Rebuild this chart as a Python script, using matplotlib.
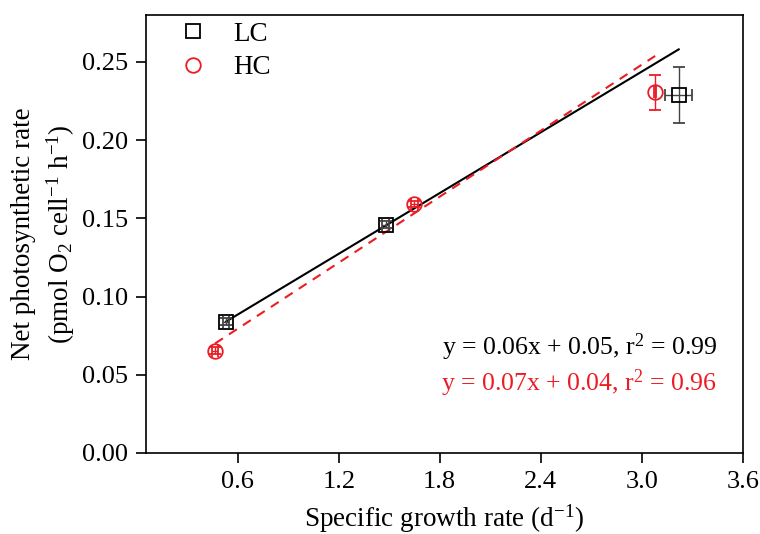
import numpy as np
import matplotlib
matplotlib.use("Agg")
import matplotlib.pyplot as plt

plt.rcParams['font.family'] = ['Liberation Serif', 'DejaVu Serif']
plt.rcParams['mathtext.fontset'] = 'custom'
plt.rcParams['mathtext.rm'] = 'Liberation Serif'
plt.rcParams['mathtext.it'] = 'Liberation Serif:italic'

# LC data (growth rate, photosynthetic rate, errors)
lc_x = [0.53, 1.48, 3.22]
lc_y = [0.084, 0.146, 0.229]
lc_xerr = [0.02, 0.02, 0.08]
lc_yerr = [0.002, 0.002, 0.018]

# HC data
hc_x = [0.465, 1.65, 3.08]
hc_y = [0.0655, 0.159, 0.2305]
hc_xerr = [0.02, 0.02, 0.005]
hc_yerr = [0.002, 0.002, 0.011]

# linear fits (slope, intercept) as drawn
lc_fit = [0.0647, 0.0497]
hc_fit = [0.0703, 0.0373]

red = '#ec1c24'

fig = plt.figure(figsize=(7.6, 5.34), dpi=100)
ax = fig.add_axes([0.1917, 0.1517, 0.7855, 0.8202])

#fit lines
xl = np.array([min(lc_x), max(lc_x)])
ax.plot(xl, lc_fit[0]*xl + lc_fit[1], color='black', lw=1.5, zorder=2)
xh = np.array([min(hc_x), max(hc_x)])
ax.plot(xh, hc_fit[0]*xh + hc_fit[1], color=red, lw=1.5, ls=(0, (4.5, 3.5)), zorder=2)

ax.errorbar(lc_x, lc_y, xerr=lc_xerr, yerr=lc_yerr, fmt='s', ms=9.5,
            mfc='none', mec='black', mew=1.3, ecolor='#444444', elinewidth=1,
            capsize=4, capthick=1, zorder=3, label='LC')
ax.errorbar(hc_x, hc_y, xerr=hc_xerr, yerr=hc_yerr, fmt='o', ms=10.5,
            mfc='none', mec=red, mew=1.3, ecolor=red, elinewidth=1,
            capsize=4, capthick=1, zorder=3, label='HC')

ax.set_xlim(0.053, 3.6)
ax.set_ylim(0, 0.28)
ax.set_xticks([0.6, 1.2, 1.8, 2.4, 3.0, 3.6])
ax.set_yticks([0.0, 0.05, 0.10, 0.15, 0.20, 0.25])
ax.xaxis.set_major_formatter(matplotlib.ticker.FormatStrFormatter('%.1f'))
ax.yaxis.set_major_formatter(matplotlib.ticker.FormatStrFormatter('%.2f'))
ax.tick_params(direction='out', length=7, width=1.2, labelsize=19, pad=6,
               top=False, right=False)
for s in ax.spines.values():
    s.set_linewidth(1.2)

ax.set_xlabel('Specific growth rate (d$^{-1}$)', fontsize=19.5, labelpad=7)
ax.set_ylabel('Net photosynthetic rate\n(pmol O$_2$ cell$^{-1}$ h$^{-1}$)',
              fontsize=19.5, labelpad=3, linespacing=1.35)

handles, labels = ax.get_legend_handles_labels()
leg = ax.legend([h[0] for h in handles], labels, loc='upper left',
                bbox_to_anchor=(0.015, 1.04), frameon=False, fontsize=19.5,
                handlelength=1.0, handletextpad=1.0, labelspacing=0.3)

ax.text(0.957, 0.242, 'y = 0.06x + 0.05, r$^2$ = 0.99', transform=ax.transAxes,
        ha='right', va='center', fontsize=18.5, color='black')
ax.text(0.957, 0.16, 'y = 0.07x + 0.04, r$^2$ = 0.96', transform=ax.transAxes,
        ha='right', va='center', fontsize=18.5, color=red)

fig.savefig('out.png', dpi=100)
